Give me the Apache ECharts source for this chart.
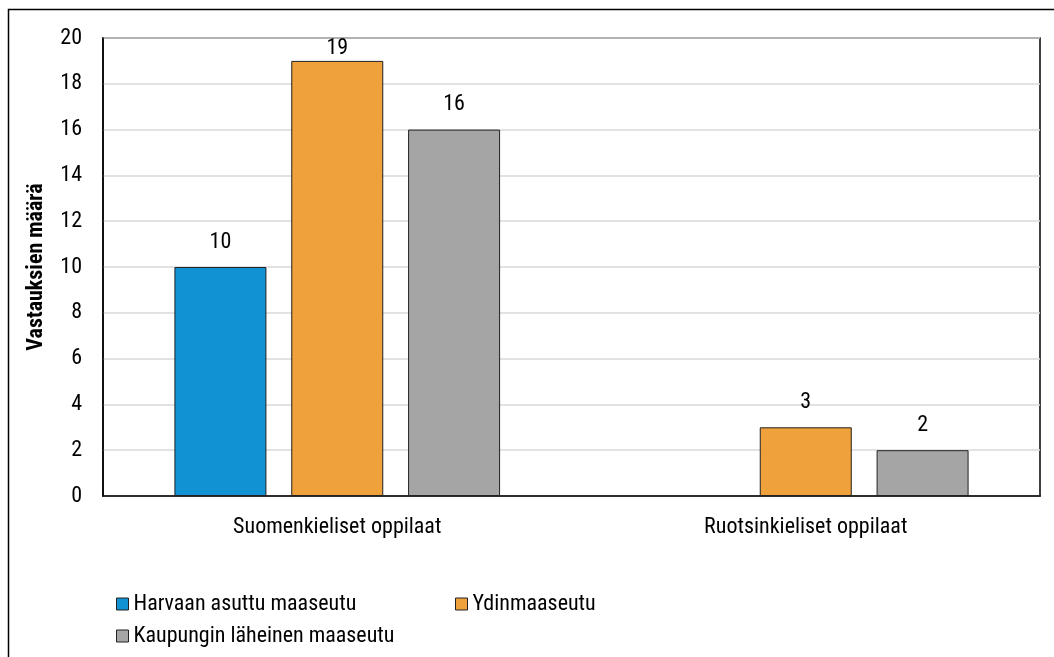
<!DOCTYPE html>
<html>
<head>
<meta charset="utf-8">
<script src="https://cdn.jsdelivr.net/npm/echarts@6/dist/echarts.min.js"></script>
<style>
html, body { margin: 0; padding: 0; background: #fff; }
#main { width: 1054px; height: 657px; }
</style>
</head>
<body>
<div id="main"></div>
<script>
var categories = ['Suomenkieliset oppilaat', 'Ruotsinkieliset oppilaat'];
var harvaan = [10, null];
var ydin = [19, 3];
var kaupunki = [16, 2];
var seriesNames = ['Harvaan asuttu maaseutu', 'Ydinmaaseutu', 'Kaupungin läheinen maaseutu'];
var seriesColors = ['#1192D3', '#EFA13C', '#A5A5A5'];
var yTicks = [0, 20, 2];

var font = '"Roboto Condensed", "Liberation Sans", Arial, sans-serif';
var fsize = 22;

function make_data(arr){
	var out = [];
	for (var i = 0; i < arr.length; i++) {
		if (arr[i] == null) { out.push(null); continue; }
		// labels near the top get pushed down inside the plot like excel does
		if (arr[i] > 18) out.push({ value: arr[i], label: { distance: 1 } });
		else out.push(arr[i]);
	}
	return out;
}

function make_serie(name, arr, color){
	return {
		name: name,
		type: 'bar',
		data: make_data(arr),
		barWidth: 92,
		barGap: '27%',
		itemStyle: { color: color, borderColor: '#222', borderWidth: 1 },
		label: {
			show: true,
			position: 'top',
			distance: 14,
			color: '#000',
			fontSize: fsize,
			fontFamily: font
		}
	};
}

var chart = echarts.init(document.getElementById('main'), null, { renderer: 'canvas' });
chart.setOption({
	animation: false,
	textStyle: { fontFamily: font },
	graphic: [{
		type: 'rect',
		shape: { x: 8.5, y: 9.5, width: 1200, height: 800 },
		style: { fill: 'none', stroke: '#000', lineWidth: 1.5 },
		silent: true
	}],
	grid: {
		left: 103, top: 38, width: 937, height: 458,
		show: true, borderColor: '#000', borderWidth: 1.5
	},
	legend: [
		{ data: [seriesNames[0]], left: 111, top: 588 },
		{ data: [seriesNames[1]], left: 450, top: 588 },
		{ data: [seriesNames[2]], left: 111, top: 620 }
	].map(function(l){
		l.itemWidth = 12; l.itemHeight = 12; l.icon = 'rect';
		l.itemGap = 6;
		l.textStyle = { fontSize: fsize, color: '#000', fontFamily: font };
		l.itemStyle = { borderColor: '#222', borderWidth: 1 };
		return l;
	}),
	xAxis: {
		type: 'category',
		data: categories,
		axisLine: { lineStyle: { color: '#000', width: 1.5 } },
		axisTick: { show: false },
		axisLabel: { color: '#000', fontSize: fsize, margin: 20, fontFamily: font }
	},
	yAxis: {
		type: 'value',
		min: yTicks[0], max: yTicks[1], interval: yTicks[2],
		name: 'Vastauksien määrä',
		nameLocation: 'middle',
		nameGap: 56,
		nameTextStyle: { fontSize: fsize, fontWeight: 'bold', color: '#000', fontFamily: font },
		axisLine: { show: true, lineStyle: { color: '#000', width: 1.5 } },
		axisTick: { show: false },
		axisLabel: { color: '#000', fontSize: fsize, margin: 21, fontFamily: font },
		splitLine: { lineStyle: { color: '#D9D9D9', width: 1.5 } }
	},
	series: [
		make_serie(seriesNames[0], harvaan, seriesColors[0]),
		make_serie(seriesNames[1], ydin, seriesColors[1]),
		make_serie(seriesNames[2], kaupunki, seriesColors[2])
	]
});
</script>
</body>
</html>
